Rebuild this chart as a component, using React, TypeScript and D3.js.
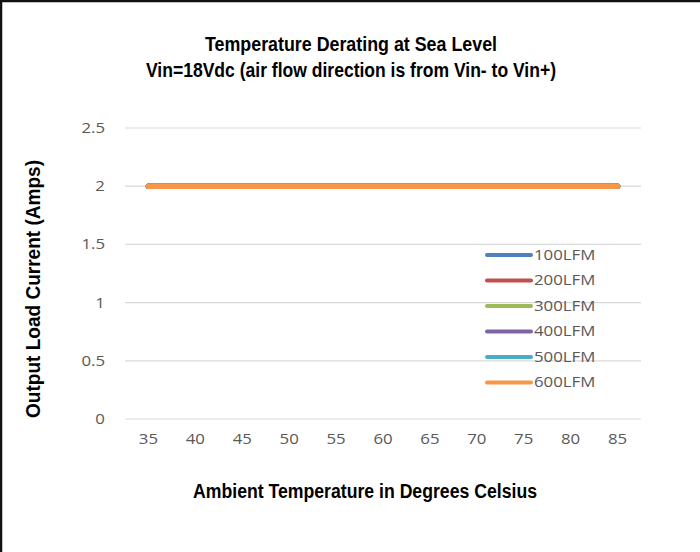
import React, { useEffect, useRef } from "react";
import * as d3 from "d3";

const categories = [35, 40, 45, 50, 55, 60, 65, 70, 75, 80, 85];
const seriesNames = ["100LFM", "200LFM", "300LFM", "400LFM", "500LFM", "600LFM"];
const seriesValues = [
  [2, 2, 2, 2, 2, 2, 2, 2, 2, 2, 2],
  [2, 2, 2, 2, 2, 2, 2, 2, 2, 2, 2],
  [2, 2, 2, 2, 2, 2, 2, 2, 2, 2, 2],
  [2, 2, 2, 2, 2, 2, 2, 2, 2, 2, 2],
  [2, 2, 2, 2, 2, 2, 2, 2, 2, 2, 2],
  [2, 2, 2, 2, 2, 2, 2, 2, 2, 2, 2],
];
const seriesColors = ["#4F81BD", "#C0504D", "#9BBB59", "#8064A2", "#4BACC6", "#F79646"];
const yTicks = [0, 0.5, 1, 1.5, 2, 2.5];
const titleLines = ["Temperature Derating at Sea Level", "Vin=18Vdc (air flow direction is from Vin- to Vin+)"];
const xTitle = "Ambient Temperature in Degrees Celsius";
const yTitle = "Output Load Current (Amps)";

const W = 700;
const H = 552;
const plot = { left: 125, right: 641, top: 128, bottom: 419 };
const boldFont = "'Liberation Sans Narrow', 'Arial Narrow', 'Liberation Sans', sans-serif";
const tickFont = "'Open Sans', sans-serif";
const STRETCH = 1.2;

export default function App() {
  const ref = useRef<SVGSVGElement>(null);

  useEffect(() => {
    const svg = d3.select(ref.current);
    svg.selectAll("*").remove();

    const stretch = (sel: any) => {
      sel.each(function (this: SVGTextElement) {
        const len = this.getComputedTextLength();
        d3.select(this).attr("textLength", len * STRETCH).attr("lengthAdjust", "spacingAndGlyphs");
      });
    };

    svg.append("rect").attr("width", W).attr("height", H).attr("fill", "#fff");
    // frame (top and left)
    svg.append("line").attr("x1", 0).attr("x2", W).attr("y1", 1).attr("y2", 1)
      .attr("stroke", "#111").attr("stroke-width", 2.5);
    svg.append("line").attr("x1", 1).attr("x2", 1).attr("y1", 0).attr("y2", H)
      .attr("stroke", "#111").attr("stroke-width", 2.5);

    const x = d3.scaleBand<number>().domain(categories).range([plot.left, plot.right]);
    const y = d3.scaleLinear().domain([0, 2.5]).range([plot.bottom, plot.top]);
    const cx = (c: number) => (x(c) as number) + x.bandwidth() / 2;

    // gridlines
    svg.append("g").selectAll("line").data(yTicks).join("line")
      .attr("x1", plot.left).attr("x2", plot.right)
      .attr("y1", (d) => y(d)).attr("y2", (d) => y(d))
      .attr("stroke", "#D9D9D9").attr("stroke-width", 1.2);

    // y tick labels
    svg.append("g").selectAll("text").data(yTicks).join("text")
      .attr("x", 105).attr("y", (d) => y(d)).attr("dy", "0.35em")
      .attr("text-anchor", "end").attr("font-family", tickFont).attr("font-size", 14)
      .attr("fill", "#595959").text((d) => String(d)).call(stretch);

    // x tick labels
    svg.append("g").selectAll("text").data(categories).join("text")
      .attr("x", (d) => cx(d)).attr("y", 444)
      .attr("text-anchor", "middle").attr("font-family", tickFont).attr("font-size", 14)
      .attr("fill", "#595959").text((d) => String(d)).call(stretch);

    // series lines
    const line = d3.line<number>().x((_, i) => cx(categories[i])).y((d) => y(d));
    seriesValues.forEach((vals, i) => {
      svg.append("path").datum(vals).attr("d", line)
        .attr("fill", "none").attr("stroke", seriesColors[i]).attr("stroke-width", 5.5)
        .attr("stroke-linecap", "round").attr("stroke-linejoin", "round");
    });

    // legend
    const lg = svg.append("g");
    seriesNames.forEach((name, i) => {
      const ly = 255 + i * 25.5;
      lg.append("line").attr("x1", 487).attr("x2", 531).attr("y1", ly).attr("y2", ly)
        .attr("stroke", seriesColors[i]).attr("stroke-width", 4).attr("stroke-linecap", "round");
      lg.append("text").attr("x", 534).attr("y", ly).attr("dy", "0.35em")
        .attr("font-family", tickFont).attr("font-size", 14).attr("fill", "#595959").text(name)
        .call(stretch);
    });

    // titles (condensed bold look)
    const boldText = (t: string, xx: number, yy: number, len: number, rotate = false) => {
      const el = svg.append("text")
        .attr("text-anchor", "middle").attr("font-family", boldFont).attr("font-weight", "bold")
        .attr("font-size", 19.5).attr("fill", "#000")
        .attr("textLength", len).attr("lengthAdjust", "spacingAndGlyphs").text(t);
      if (rotate) el.attr("transform", `translate(${xx},${yy}) rotate(-90)`);
      else el.attr("x", xx).attr("y", yy);
    };
    boldText(titleLines[0], 351, 51, 292);
    boldText(titleLines[1], 351, 77, 410);
    boldText(xTitle, 365, 498, 344);
    boldText(yTitle, 40, 289, 258, true);
  }, []);

  return (
    <svg ref={ref} width={W} height={H}
      style={{ position: "absolute", left: 0, top: 0, display: "block" }} />
  );
}
